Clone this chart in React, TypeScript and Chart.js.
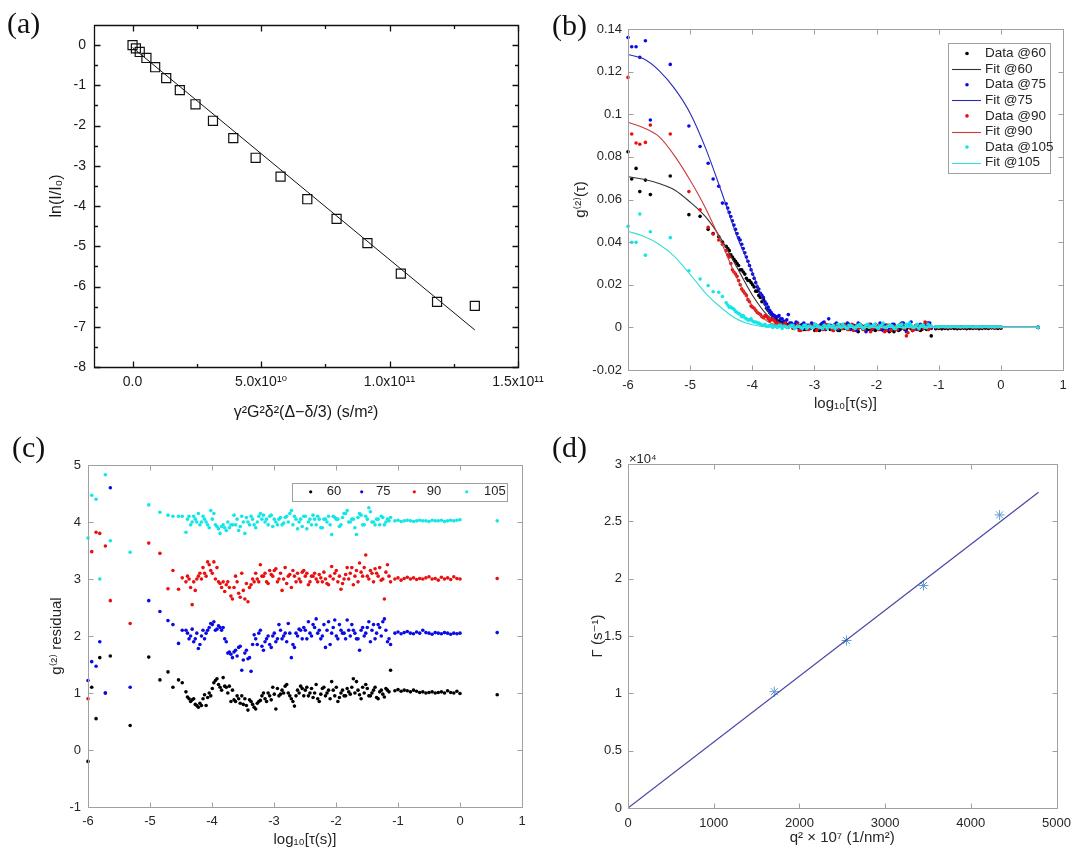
import React, { useEffect, useRef } from "react";
import { Chart, registerables } from "chart.js";

Chart.register(...registerables);

// ================= DATA =================
// Panel (a): ln(I/I0) vs gamma^2 G^2 delta^2 (Delta - delta/3)
const A_X = [0, 1.3e9, 2.8e9, 5.4e9, 8.8e9, 1.31e10, 1.84e10, 2.45e10, 3.13e10, 3.92e10, 4.79e10, 5.76e10, 6.8e10, 7.94e10, 9.14e10, 1.044e11, 1.185e11, 1.332e11];
const A_Y = [0, -0.08, -0.17, -0.32, -0.55, -0.82, -1.12, -1.47, -1.88, -2.31, -2.8, -3.27, -3.83, -4.32, -4.92, -5.68, -6.38, -6.48];
const A_FIT_X = [0, 1.332e11];
const A_FIT_Y = [-0.06, -7.08];
const A_X_TICKS = [0, 5e10, 1e11, 1.5e11];
const A_X_TICK_LABELS = ["0.0", "5.0x10¹⁰", "1.0x10¹¹", "1.5x10¹¹"];
const A_Y_TICKS = [-8, -7, -6, -5, -4, -3, -2, -1, 0];
const A_X_MINOR = [2.5e10, 7.5e10, 1.25e11];
const A_Y_MINOR = [-7.5, -6.5, -5.5, -4.5, -3.5, -2.5, -1.5, -0.5];

// Panels (b) and (c): log10(tau) grid
const TAU = [
  -6.0, -5.94, -5.87, -5.81, -5.72, -5.64, -5.32, -5.02, -4.84, -4.71, -4.63, -4.54, -4.48,
  -4.42, -4.37, -4.32, -4.27, -4.22, -4.17, -4.12, -4.07, -4.02, -3.97, -3.92, -3.87, -3.82, -3.77, -3.72, -3.67, -3.62, -3.57, -3.52, -3.47, -3.42, -3.37, -3.32, -3.27, -3.22, -3.17, -3.12, -3.07, -3.02, -2.97, -2.92, -2.87, -2.82, -2.77, -2.72, -2.67, -2.62, -2.57, -2.52, -2.47, -2.42, -2.37, -2.32, -2.27, -2.22, -2.17, -2.12, -2.07, -2.02, -1.97, -1.92, -1.87, -1.82, -1.77, -1.72, -1.67, -1.62, -1.57, -1.52, -1.47, -1.42, -1.37, -1.32, -1.27, -1.22, -1.17, -1.12,
  -1.05, -1.0, -0.95, -0.9, -0.85, -0.8, -0.75, -0.7, -0.65, -0.6, -0.55, -0.5, -0.45, -0.4, -0.35, -0.3, -0.25, -0.2, -0.15, -0.1, -0.05, 0,
  0.6,
];
// interleaved lag times in the dense middle region
const TAU_B = [
  -4.395, -4.345, -4.295, -4.245, -4.195, -4.145, -4.095, -4.045, -3.995, -3.945, -3.895, -3.845, -3.795, -3.745, -3.695, -3.645, -3.595, -3.545, -3.495, -3.445,
  -3.395, -3.345, -3.295, -3.245, -3.195, -3.145, -3.095, -3.045, -2.995, -2.945, -2.895, -2.845, -2.795, -2.745, -2.695, -2.645, -2.595, -2.545, -2.495, -2.445,
  -2.395, -2.345, -2.295, -2.245, -2.195, -2.145, -2.095, -2.045, -1.995, -1.945, -1.895, -1.845, -1.795, -1.745, -1.695, -1.645, -1.595, -1.545, -1.495, -1.445,
  -1.395, -1.345, -1.295, -1.245, -1.195, -1.145,
];
const SERIES = ["60", "75", "90", "105"];

// (b) g2 data
const G2_60 = [
  0.0824, 0.0696, 0.0746, 0.0637, 0.0691, 0.0623, 0.071, 0.0529, 0.0521, 0.046, 0.044, 0.0425, 0.04,
  0.038, 0.036, 0.033, 0.031, 0.029, 0.027, 0.025, 0.022, 0.021, 0.019, 0.017, 0.014, 0.013, 0.009, 0.007, 0.005, 0.004, 0.003, 0.002, 0.002, 0.001, 0.0005, 0.001, 0, 0.001, -0.001, 0.0005, -0.0005, 0.001, -0.001, -0.0015, 0.0005, -0.001, 0.001, -0.001, 0, -0.0015, 0.001, -0.0005, 0.0005, -0.001, 0, -0.0015, 0.001, -0.0005, 0, -0.001, 0.0005, -0.0015, -0.0005, 0, -0.001, 0.0005, -0.0015, -0.002, 0, -0.001, 0.0005, -0.001, 0, -0.0015, -0.0005, 0, -0.001, -0.0005, -0.001, -0.004,
  -0.0006, -0.0005, -0.0007, -0.0005, -0.0006, -0.0004, -0.0005, -0.0006, -0.0005, -0.0004, -0.0006, -0.0005, -0.0005, -0.0004, -0.0006, -0.0005, -0.0004, -0.0005, -0.0003, -0.0004, -0.0005, -0.0004,
  0,
];
const G2_60B = [
  0.037, 0.034, 0.032, 0.03, 0.027, 0.026, 0.023, 0.022, 0.02, 0.017, 0.015, 0.012, 0.011, 0.008, 0.006, 0.0045, 0.003, 0.0025, 0.002, 0.0015,
  0.001, 0, 0.0015, -0.0005, 0.0005, -0.001, 0, 0.001, -0.0015, 0.0005, -0.0005, 0, 0.001, -0.001, -0.0005, 0.0005, -0.0015, 0, 0.001, -0.001,
  0.0005, -0.0005, -0.002, 0, 0.0005, -0.001, -0.0015, 0.0005, 0, -0.001, -0.0005, 0.001, -0.002, -0.0005, 0, -0.0015, 0.0005, -0.001, 0, -0.0005,
  -0.001, 0.0005, -0.0015, 0, -0.001, -0.0005,
];
const G2_75 = [
  0.136, 0.1317, 0.1317, 0.1267, 0.1345, 0.0973, 0.1234, 0.0945, 0.0849, 0.077, 0.0696, 0.0662, 0.0583,
  0.058, 0.054, 0.05, 0.046, 0.042, 0.039, 0.035, 0.031, 0.027, 0.023, 0.019, 0.016, 0.014, 0.011, 0.008, 0.006, 0.005, 0.0055, 0.004, 0.0025, 0.006, 0.002, 0.0015, 0.002, 0.0005, 0.002, 0.001, -0.0005, 0.0015, 0.001, 0.0005, 0.002, -0.001, 0.004, 0.0005, 0.0015, -0.001, 0.001, 0, 0.002, -0.0005, 0.001, -0.0015, 0.0015, 0, -0.002, 0.001, -0.001, 0.0015, 0, -0.001, 0.001, -0.0015, 0.0005, 0.0015, -0.001, 0, 0.002, -0.002, 0.001, -0.0015, 0.0005, -0.001, 0.001, 0.0015, 0.002, -0.0005,
  0.0002, 0.0001, 0.0003, 0.0002, 0.0001, 0.0002, 0.0003, 0.0002, 0.0001, 0.0002, 0.0002, 0.0003, 0.0001, 0.0002, 0.0002, 0.0001, 0.0003, 0.0002, 0.0002, 0.0001, 0.0002, 0.0002,
  0,
];
const G2_75B = [
  0.056, 0.052, 0.048, 0.044, 0.041, 0.037, 0.033, 0.029, 0.025, 0.021, 0.018, 0.015, 0.012, 0.0095, 0.007, 0.0055, 0.005, 0.004, 0.003, 0.0035,
  0.002, 0.001, 0.0025, 0, 0.0015, -0.0005, 0.001, 0.002, 0.0005, -0.001, 0.0015, 0.0025, 0, 0.001, -0.0015, 0.002, 0.0005, -0.0005, 0.001, 0.0015,
  -0.001, 0.0005, 0.002, 0, -0.001, 0.001, 0.0015, -0.0005, 0.0005, 0.002, -0.0015, 0.001, 0, 0.0015, -0.001, 0.0005, 0.002, -0.0005, 0.001, 0.0025,
  0, -0.001, 0.0015, 0.0005, 0.001, 0.002,
];
const G2_90 = [
  0.1173, 0.0907, 0.0865, 0.0859, 0.0868, 0.0949, 0.0907, 0.0637, 0.0552, 0.0469, 0.0438, 0.041, 0.039,
  0.036, 0.033, 0.027, 0.025, 0.022, 0.018, 0.016, 0.013, 0.01, 0.009, 0.007, 0.006, 0.0045, 0.005, 0.003, 0.004, 0.002, 0.0015, 0.001, 0.002, 0, 0.001, -0.0005, 0.0015, -0.0015, 0.0005, -0.001, 0.001, 0, -0.0015, 0.0005, -0.001, 0.0015, 0, -0.001, 0.001, -0.0005, 0, 0.0015, -0.001, 0.0005, -0.0015, 0.001, 0, -0.001, 0.0005, 0.0015, -0.0005, 0.001, -0.001, 0, -0.002, 0.001, -0.0015, 0.0005, -0.001, 0.0015, -0.0005, -0.004, 0, -0.0015, 0.001, -0.001, 0.0005, 0.0025, -0.001, 0.0005,
  0.0001, 0, 0.0002, 0.0001, 0, 0.0001, 0.0002, 0, 0.0001, 0.0001, 0, 0.0002, 0.0001, 0, 0.0001, 0.0001, 0.0002, 0, 0.0001, 0, 0.0001, 0.0001,
  0,
];
const G2_90B = [
  0.034, 0.03, 0.026, 0.024, 0.02, 0.017, 0.015, 0.012, 0.0095, 0.008, 0.0065, 0.005, 0.0055, 0.004, 0.0035, 0.003, 0.002, 0.0015, 0.001, 0.0005,
  0.001, -0.0005, 0.0005, -0.0015, 0, 0.001, -0.001, 0.0005, 0.0015, -0.0005, 0, -0.001, 0.001, 0.0005, -0.0015, 0, 0.001, -0.0005, 0.0005, -0.001,
  0.0015, 0, -0.0005, 0.001, -0.001, 0.0005, -0.002, 0, 0.001, -0.0005, 0.0005, -0.0015, 0.001, 0, -0.001, 0.0005, 0.0015, -0.0005, -0.0025, 0.0005,
  -0.001, 0, 0.001, -0.0005, 0.002, -0.0005,
];
const G2_105 = [
  0.0474, 0.0399, 0.0399, 0.0532, 0.0339, 0.0449, 0.0421, 0.0266, 0.0227, 0.0196, 0.0167, 0.0165, 0.0145,
  0.0115, 0.0095, 0.009, 0.0075, 0.0065, 0.005, 0.0045, 0.0035, 0.004, 0.0025, 0.002, 0.0015, 0.001, 0.0005, 0.001, 0, 0.0005, 0.001, -0.0005, 0.0005, 0, 0.001, -0.0005, 0.0005, 0, 0.001, -0.0005, 0.0005, 0, 0.001, 0, -0.0005, 0.0005, 0.001, 0, -0.0005, 0.0015, 0, 0.0005, -0.0005, 0.001, 0, 0.0005, 0.0015, -0.0005, 0.001, 0, 0.0005, 0.0015, -0.0005, 0.001, 0, 0.0005, 0.001, -0.0005, 0.0005, 0.001, 0, 0.0015, 0.002, 0, 0.0005, -0.0005, 0.001, 0, 0.0015, 0.0005,
  0.0003, 0.0002, 0.0004, 0.0003, 0.0002, 0.0003, 0.0004, 0.0003, 0.0002, 0.0003, 0.0003, 0.0004, 0.0002, 0.0003, 0.0003, 0.0002, 0.0004, 0.0003, 0.0003, 0.0002, 0.0003, 0.0003,
  0,
];
const G2_105B = [
  0.0105, 0.0095, 0.0085, 0.007, 0.006, 0.0055, 0.004, 0.0035, 0.003, 0.0025, 0.002, 0.001, 0.0015, 0.0005, 0.001, 0.0005, 0, 0.001, 0.0005, 0,
  0.0005, 0.001, 0, 0.0005, -0.0005, 0.001, 0.0005, 0, 0.0015, 0.0005, 0, 0.001, -0.0005, 0.0005, 0.001, 0, 0.0005, 0.0015, 0, 0.001,
  0.0005, -0.0005, 0.001, 0.0005, 0, 0.0015, 0.0005, 0.001, 0, 0.0005, 0.002, 0, 0.001, 0.0005, -0.0005, 0.001, 0.0015, 0, 0.0005, 0.001,
  0, 0.0015, 0.0005, 0.001, 0, 0.0005,
];

// (b) fitted curves
const FIT_X = [-6, -5.75, -5.5, -5.25, -5.0, -4.75, -4.5, -4.25, -4.0, -3.75, -3.5, -3.25, -3.0, 0.6];
const FIT_60 = [0.0707, 0.0695, 0.0675, 0.0645, 0.0588, 0.0518, 0.0415, 0.0283, 0.0152, 0.0055, 0.0012, 0.0002, 0, 0];
const FIT_75 = [0.128, 0.126, 0.1205, 0.112, 0.1005, 0.084, 0.064, 0.043, 0.026, 0.0076, 0.0018, 0.0004, 0, 0];
const FIT_90 = [0.0962, 0.0937, 0.0895, 0.0805, 0.069, 0.0558, 0.04, 0.0232, 0.0102, 0.0027, 0.0006, 0, 0, 0];
const FIT_105 = [0.045, 0.0428, 0.039, 0.0332, 0.0249, 0.016, 0.0092, 0.0039, 0.0012, 0.0002, 0, 0, 0, 0];

// (c) residuals (offset per series)
const RES_60 = [
  -0.2, 1.1, 0.55, 1.62, 1.0, 1.65, 0.43, 1.63, 1.23, 1.37, 1.1, 1.23, 1.18,
  1.02, 0.9, 0.88, 0.8, 0.75, 0.78, 0.97, 0.92, 0.95, 1.18, 1.25, 1.1, 1.27, 1.1, 1.12, 1.05, 0.85, 0.9, 0.95, 0.9, 0.7, 0.85, 0.75, 0.82, 0.87, 1.0, 0.85, 0.95, 1.1, 0.72, 0.95, 1.05, 1.12, 1.0, 0.9, 0.77, 1.05, 1.12, 0.95, 1.1, 1.0, 0.92, 1.15, 0.85, 1.08, 0.95, 1.05, 1.2, 0.95, 0.85, 1.0, 0.95, 1.08, 0.98, 1.25, 1.2, 0.97, 1.1, 1.15, 0.95, 1.0, 1.1, 0.9, 1.05, 0.93, 1.05, 1.4,
  1.04, 1.06, 1.03, 1.05, 1.04, 1.02, 1.05, 1.03, 1.01, 1.02, 1.0, 1.01, 1.02, 1.0, 1.01, 1.02, 1.0, 1.04, 1.01, 1.0, 1.03, 0.99,
  0.97,
];
const RES_60B = [
  0.93, 0.85, 0.9, 0.78, 0.82, 0.9, 0.78, 1.0, 1.08, 1.22, 1.15, 1.05, 1.12, 1.0, 0.85, 0.88, 0.95, 0.82, 0.8, 0.78,
  0.88, 0.8, 0.72, 0.85, 0.95, 0.9, 1.0, 0.88, 0.98, 1.08, 0.98, 1.0, 1.15, 0.95, 0.85, 0.95, 1.0, 1.08, 1.05, 0.95,
  1.08, 1.0, 0.9, 0.98, 1.1, 1.0, 0.9, 1.05, 1.1, 0.92, 1.05, 0.95, 1.02, 1.1, 1.0, 1.05, 0.9, 1.0, 1.08, 0.95,
  1.05, 0.92, 1.02, 0.98, 1.08, 1.02,
];
const RES_75 = [
  1.22, 1.55, 1.47, 1.9, 1.0, 4.6, 1.1, 2.62, 2.43, 2.27, 2.2, 1.87, 2.1,
  2.1, 1.95, 2.12, 1.95, 1.78, 2.0, 1.95, 2.1, 2.22, 2.25, 2.12, 2.15, 2.15, 1.9, 1.72, 1.62, 1.75, 1.8, 1.4, 1.7, 1.6, 1.38, 2.02, 1.85, 2.1, 1.75, 1.95, 1.85, 2.0, 1.9, 2.2, 1.95, 2.05, 2.22, 1.62, 1.8, 2.0, 2.1, 2.15, 1.95, 2.05, 2.2, 2.3, 2.1, 2.0, 1.8, 2.25, 2.05, 2.28, 1.95, 2.1, 2.05, 2.28, 2.0, 2.1, 1.95, 1.75, 2.15, 2.05, 2.25, 2.1, 1.95, 2.2, 2.0, 2.3, 1.9, 1.85,
  2.05, 2.07, 2.04, 2.06, 2.08, 2.05, 2.04, 2.07, 2.05, 2.1, 2.06, 2.05, 2.03, 2.06, 2.05, 2.04, 2.06, 2.05, 2.03, 2.05, 2.04, 2.05,
  2.06,
];
const RES_75B = [
  2.05, 2.0, 1.9, 2.05, 1.85, 2.1, 2.05, 2.15, 2.2, 2.1, 2.18, 2.1, 1.95, 1.7, 1.68, 1.72, 1.65, 1.82, 1.58, 1.75,
  1.62, 1.85, 1.95, 2.05, 1.82, 1.9, 2.0, 1.8, 2.05, 1.95, 2.1, 2.0, 1.9, 2.05, 1.85, 2.05, 2.12, 1.95, 2.1, 2.25,
  2.0, 2.15, 2.05, 1.95, 2.2, 2.1, 1.85, 2.15, 2.0, 2.2, 2.05, 1.95, 2.1, 2.2, 2.05, 1.95, 2.1, 2.0, 2.15, 1.9,
  2.2, 2.05, 2.15, 2.25, 2.1, 1.95,
];
const RES_90 = [
  0.9, 3.48, 3.82, 3.8, 3.58, 2.62, 2.22, 3.63, 3.45, 2.83, 3.15, 2.82, 3.02,
  2.95, 3.0, 2.55, 2.8, 3.05, 3.0, 3.1, 3.3, 3.15, 3.3, 3.2, 2.92, 2.95, 2.9, 2.85, 2.65, 3.05, 2.75, 3.1, 2.65, 2.6, 2.9, 2.95, 3.0, 3.25, 3.05, 2.95, 3.15, 3.05, 3.18, 3.0, 2.8, 3.2, 3.05, 2.85, 3.05, 3.1, 2.95, 3.15, 3.1, 2.95, 3.05, 3.0, 3.08, 2.95, 3.0, 2.9, 3.22, 3.1, 2.95, 2.82, 3.0, 3.2, 3.1, 2.9, 3.15, 3.28, 3.05, 3.42, 3.0, 3.1, 3.18, 3.05, 2.98, 2.65, 3.25, 2.95,
  3.0, 3.02, 2.98, 3.01, 3.03, 3.0, 3.02, 2.99, 3.01, 3.0, 3.02, 3.04, 3.0, 3.01, 2.98, 3.03, 3.0, 3.02, 2.99, 3.04, 3.01, 3.0,
  3.01,
];
const RES_90B = [
  3.05, 2.85, 2.95, 3.0, 3.1, 3.2, 3.05, 3.25, 3.1, 3.0, 2.95, 2.85, 2.78, 2.95, 2.7, 2.85, 2.95, 2.68, 2.8, 2.92,
  2.85, 3.0, 3.1, 2.95, 3.05, 3.1, 2.92, 3.08, 3.15, 2.95, 3.1, 3.0, 2.92, 3.08, 3.15, 2.95, 3.0, 3.12, 3.05, 2.9,
  3.05, 3.1, 2.95, 3.02, 3.12, 2.92, 3.05, 3.0, 3.15, 3.05, 2.92, 3.08, 3.0, 3.2, 3.05, 2.95, 3.12, 3.2, 3.05, 3.15,
  2.95, 3.1, 3.2, 3.0, 3.12, 3.05,
];
const RES_105 = [
  3.72, 4.47, 4.4, 3.0, 4.83, 3.67, 3.47, 4.3, 4.17, 4.12, 4.1, 4.1, 4.1,
  3.82, 4.1, 4.0, 4.05, 4.15, 4.0, 4.05, 3.95, 4.2, 4.15, 3.92, 3.8, 3.95, 3.85, 3.9, 3.95, 3.95, 3.85, 4.1, 3.8, 4.0, 4.1, 3.95, 4.0, 4.15, 4.12, 4.05, 4.1, 3.92, 4.0, 4.05, 3.95, 4.08, 4.0, 4.2, 4.1, 3.88, 4.05, 4.1, 3.88, 4.05, 4.12, 3.95, 4.05, 3.9, 4.05, 4.1, 3.78, 4.08, 4.05, 3.95, 4.15, 4.2, 4.0, 4.05, 3.78, 4.15, 3.95, 4.1, 4.25, 4.0, 3.95, 4.05, 4.1, 3.95, 4.05, 4.08,
  4.02, 4.03, 4.01, 4.02, 4.03, 4.02, 4.01, 4.02, 4.03, 4.02, 4.02, 4.01, 4.03, 4.02, 4.02, 4.03, 4.01, 4.02, 4.03, 4.02, 4.03, 4.04,
  4.02,
];
const RES_105B = [
  4.05, 3.95, 4.1, 4.0, 3.95, 4.1, 4.0, 3.9, 4.05, 3.95, 3.88, 3.92, 3.9, 4.0, 3.95, 4.12, 4.05, 3.92, 4.0, 4.08,
  3.95, 4.05, 3.9, 4.1, 4.05, 4.0, 3.95, 4.12, 4.05, 3.95, 4.08, 3.98, 4.1, 4.15, 3.95, 4.05, 4.0, 3.92, 4.1, 4.0,
  3.95, 4.05, 4.1, 3.9, 4.05, 4.0, 3.95, 4.1, 4.05, 3.92, 4.08, 4.15, 4.0, 4.05, 3.9, 4.08, 4.12, 3.95, 4.05, 4.18,
  4.0, 4.05, 3.95, 4.08, 4.0, 4.02,
];

// Panel (d): decay rate vs q^2
const Q2 = [1707, 2549, 3447, 4336];
const GAMMA = [10140, 14610, 19400, 25560];
const GAMMA_FIT_X = [0, 4790];
const GAMMA_FIT_Y = [0, 27530];

// ================= STYLE / LAYOUT =================
const PAGE_W = 1079;
const PAGE_H = 857;
const FONT = '"Liberation Sans", Arial, Helvetica, "DejaVu Sans", sans-serif';
const SERIF = '"Liberation Serif", "Times New Roman", Times, serif';
const ML_TEXT = "#262626";
const ML_FRAME = "#a0a0a0";
const DOT_COLORS = ["#000000", "#0a0ae6", "#ea1010", "#12e6e6"];
const FIT_COLORS = ["#333333", "#2a2ab8", "#cc3a3a", "#3adcdc"];

const decorPlugin = {
  id: "decor",
  afterDatasetsDraw(chart: any, _args: any, o: any) {
    if (!o || !o.frameColor) return;
    const { ctx, chartArea: ca } = chart;
    const xs = chart.scales.x;
    const ys = chart.scales.y;
    const l = Math.round(ca.left) + 0.5;
    const r = Math.round(ca.right) + 0.5;
    const t = Math.round(ca.top) + 0.5;
    const b = Math.round(ca.bottom) + 0.5;
    ctx.save();
    const lg = o.legend;
    if (lg) {
      ctx.fillStyle = "#ffffff";
      ctx.fillRect(lg.x, lg.y, lg.w, lg.h);
      ctx.strokeStyle = lg.border;
      ctx.lineWidth = 1;
      ctx.strokeRect(Math.round(lg.x) + 0.5, Math.round(lg.y) + 0.5, Math.round(lg.w), Math.round(lg.h));
      ctx.font = lg.font;
      ctx.textBaseline = "middle";
      ctx.textAlign = "left";
      const items = chart.data.datasets.filter((d: any) => d.label);
      items.forEach((d: any, i: number) => {
        const cx = lg.vertical ? lg.markX : lg.markX[i];
        const cy = lg.vertical ? lg.rowY + i * lg.rowH : lg.rowY;
        const tx = lg.vertical ? lg.textX : lg.textX[i];
        if (d.showLine) {
          ctx.strokeStyle = d.borderColor;
          ctx.lineWidth = d.borderWidth;
          ctx.beginPath();
          ctx.moveTo(lg.lineX0, Math.round(cy) + 0.5);
          ctx.lineTo(lg.lineX1, Math.round(cy) + 0.5);
          ctx.stroke();
        } else {
          ctx.fillStyle = d.backgroundColor;
          ctx.beginPath();
          ctx.arc(cx, cy, lg.dotR, 0, Math.PI * 2);
          ctx.fill();
        }
        ctx.fillStyle = lg.textColor;
        ctx.fillText(d.label, tx, cy);
      });
    }
    ctx.strokeStyle = o.frameColor;
    ctx.lineWidth = o.frameWidth || 1;
    ctx.beginPath();
    ctx.rect(l, t, r - l, b - t);
    ctx.stroke();
    ctx.beginPath();
    const xTick = (v: number, len: number) => {
      const p = Math.round(xs.getPixelForValue(v)) + 0.5;
      if (p < l - 0.1 || p > r + 0.1) return;
      ctx.moveTo(p, b);
      ctx.lineTo(p, b - len);
      ctx.moveTo(p, t);
      ctx.lineTo(p, t + len);
    };
    const yTick = (v: number, len: number) => {
      const p = Math.round(ys.getPixelForValue(v)) + 0.5;
      if (p < t - 0.1 || p > b + 0.1) return;
      ctx.moveTo(l, p);
      ctx.lineTo(l + len, p);
      ctx.moveTo(r, p);
      ctx.lineTo(r - len, p);
    };
    xs.ticks.forEach((tk: any) => xTick(tk.value, o.major));
    ys.ticks.forEach((tk: any) => yTick(tk.value, o.major));
    (o.xMinor || []).forEach((v: number) => xTick(v, o.minor));
    (o.yMinor || []).forEach((v: number) => yTick(v, o.minor));
    ctx.stroke();
    if (o.exponent) {
      ctx.font = o.exponent.font;
      ctx.fillStyle = o.exponent.color;
      ctx.textAlign = "left";
      ctx.textBaseline = "middle";
      ctx.fillText(o.exponent.text, o.exponent.x, o.exponent.y);
    }
    ctx.restore();
  },
};

function axisOpts(a: any, color: string) {
  const o: any = {
    type: "linear",
    min: a.min,
    max: a.max,
    afterFit: a.fit,
    grid: { display: false, drawTicks: false },
    border: { display: false },
    ticks: {
      stepSize: a.step,
      autoSkip: false,
      maxRotation: 0,
      minRotation: 0,
      padding: a.pad,
      color,
      font: { family: FONT, size: a.tickSize },
      callback: a.fmt,
    },
    title: { display: true, text: a.title, color, font: { family: FONT, size: a.titleSize }, padding: 0 },
  };
  if (a.list) o.afterBuildTicks = (s: any) => { s.ticks = a.list.map((v: number) => ({ value: v })); };
  return o;
}

function baseOptions(box: any, yW: number, xH: number, x: any, y: any, color: string, decor: any) {
  return {
    animation: false,
    responsive: false,
    devicePixelRatio: 1,
    events: [],
    layout: { padding: { left: box.L - yW, top: box.T, right: PAGE_W - box.R, bottom: PAGE_H - box.B - xH } },
    plugins: { legend: { display: false }, tooltip: { enabled: false }, decor },
    scales: {
      x: axisOpts({ ...x, fit: (s: any) => { s.height = xH; } }, color),
      y: axisOpts({ ...y, fit: (s: any) => { s.width = yW; } }, color),
    },
  };
}

const pts = (xs: number[], ys: number[]) => xs.map((x, i) => ({ x, y: ys[i] }));
const fmt2 = (v: number) => String(Math.round(v * 100) / 100);

function makeA() {
  return {
    type: "scatter",
    data: {
      datasets: [
        { data: pts(A_FIT_X, A_FIT_Y), showLine: true, pointRadius: 0, borderColor: "#111111", borderWidth: 1, order: 2 },
        { data: pts(A_X, A_Y), pointStyle: "rect", pointRadius: 6.4, borderColor: "#111111", borderWidth: 1.2, backgroundColor: "rgba(255,255,255,0)", order: 1 },
      ],
    },
    options: baseOptions(
      { L: 94, T: 25, R: 518, B: 367 }, 47, 55,
      { min: -1.5e10, max: 1.5e11, list: A_X_TICKS, pad: 7, tickSize: 14, titleSize: 16, title: "γ²G²δ²(Δ−δ/3) (s/m²)", fmt: (v: number) => A_X_TICK_LABELS[A_X_TICKS.indexOf(v)] },
      { min: -8, max: 0.5, list: A_Y_TICKS, pad: 8, tickSize: 14, titleSize: 16, title: "ln(I/I₀)", fmt: (v: number) => String(v) },
      "#1a1a1a",
      { frameColor: "#111111", frameWidth: 1.3, major: 6, minor: 3.5, xMinor: A_X_MINOR, yMinor: A_Y_MINOR },
    ),
  };
}

function makeB() {
  const g2 = [G2_60, G2_75, G2_90, G2_105];
  const g2b = [G2_60B, G2_75B, G2_90B, G2_105B];
  const fits = [FIT_60, FIT_75, FIT_90, FIT_105];
  const datasets: any[] = [];
  SERIES.forEach((s, i) => {
    datasets.push({ label: "Data @" + s, data: pts(TAU, g2[i]).concat(pts(TAU_B, g2b[i])), pointRadius: 1.8, borderWidth: 0, backgroundColor: DOT_COLORS[i], clip: false });
    datasets.push({ label: "Fit @" + s, data: pts(FIT_X, fits[i]), showLine: true, pointRadius: 0, borderColor: FIT_COLORS[i], borderWidth: 1.1, cubicInterpolationMode: "monotone", clip: false });
  });
  datasets.forEach((d, i) => { d.order = datasets.length - i; });
  return {
    type: "scatter",
    data: { datasets },
    options: baseOptions(
      { L: 628, T: 29, R: 1063, B: 370 }, 56, 43,
      { min: -6, max: 1, step: 1, pad: 8, tickSize: 13, titleSize: 15, title: "log₁₀[τ(s)]", fmt: (v: number) => String(v) },
      { min: -0.02, max: 0.14, step: 0.02, pad: 6, tickSize: 13, titleSize: 15, title: "g⁽²⁾(τ)", fmt: fmt2 },
      ML_TEXT,
      {
        frameColor: ML_FRAME, frameWidth: 1, major: 5, minor: 0,
        legend: { vertical: true, x: 948, y: 42.5, w: 102, h: 129.5, rowY: 53.5, rowH: 15.6, markX: 967, lineX0: 952, lineX1: 981, textX: 985, dotR: 1.8, font: "13.5px " + FONT, textColor: ML_TEXT, border: ML_FRAME },
      },
    ),
  };
}

function makeC() {
  const res = [RES_60, RES_75, RES_90, RES_105];
  const resb = [RES_60B, RES_75B, RES_90B, RES_105B];
  const datasets: any[] = SERIES.map((s, i) => ({ label: s, data: pts(TAU, res[i]).concat(pts(TAU_B, resb[i])), pointRadius: 1.8, borderWidth: 0, backgroundColor: DOT_COLORS[i], clip: false, order: SERIES.length - i }));
  return {
    type: "scatter",
    data: { datasets },
    options: baseOptions(
      { L: 88, T: 465, R: 522, B: 807 }, 40, 42,
      { min: -6, max: 1, step: 1, pad: 7, tickSize: 13, titleSize: 15, title: "log₁₀[τ(s)]", fmt: (v: number) => String(v) },
      { min: -1, max: 5, step: 1, pad: 7, tickSize: 13, titleSize: 15, title: "g⁽²⁾ residual", fmt: (v: number) => String(v) },
      ML_TEXT,
      {
        frameColor: ML_FRAME, frameWidth: 1, major: 5, minor: 0,
        legend: { vertical: false, x: 292, y: 483, w: 215, h: 17.5, rowY: 491.8, markX: [310.7, 361.7, 414.3, 466.7], textX: [326.7, 376, 426.7, 484], dotR: 1.6, font: "13px " + FONT, textColor: ML_TEXT, border: ML_FRAME },
      },
    ),
  };
}

function makeD() {
  return {
    type: "scatter",
    data: {
      datasets: [
        { data: pts(Q2, GAMMA), pointStyle: "star", pointRadius: 5, borderColor: "#6199cf", borderWidth: 1, backgroundColor: "rgba(0,0,0,0)", order: 2 },
        { data: pts(GAMMA_FIT_X, GAMMA_FIT_Y), showLine: true, pointRadius: 0, borderColor: "#4646a6", borderWidth: 1.2, order: 1 },
      ],
    },
    options: baseOptions(
      { L: 628, T: 464, R: 1063, B: 808 }, 39, 39,
      { min: 0, max: 5000, step: 1000, pad: 8, tickSize: 13, titleSize: 15, title: "q² × 10⁷ (1/nm²)", fmt: (v: number) => String(v) },
      { min: 0, max: 30000, step: 5000, pad: 6, tickSize: 13, titleSize: 15, title: "Γ (s⁻¹)", fmt: (v: number) => String(v / 10000) },
      ML_TEXT,
      { frameColor: ML_FRAME, frameWidth: 1, major: 5, minor: 0, exponent: { text: "×10⁴", x: 629, y: 459, font: "13px " + FONT, color: ML_TEXT } },
    ),
  };
}

function ChartCanvas({ make }: { make: () => any }) {
  const ref = useRef<HTMLCanvasElement>(null);
  useEffect(() => {
    const cfg = make();
    cfg.plugins = [decorPlugin];
    const chart = new Chart(ref.current as HTMLCanvasElement, cfg);
    return () => chart.destroy();
  }, []);
  return (
    <canvas
      ref={ref}
      width={PAGE_W}
      height={PAGE_H}
      style={{ position: "absolute", left: 0, top: 0, width: PAGE_W, height: PAGE_H }}
    />
  );
}

const LETTERS = [
  { t: "(a)", x: 7, y: 8 },
  { t: "(b)", x: 552, y: 10 },
  { t: "(c)", x: 12, y: 432 },
  { t: "(d)", x: 552, y: 432 },
];

export default function App() {
  return (
    <div style={{ position: "fixed", left: 0, top: 0, width: PAGE_W, height: PAGE_H, background: "#ffffff", overflow: "hidden" }}>
      <ChartCanvas make={makeA} />
      <ChartCanvas make={makeB} />
      <ChartCanvas make={makeC} />
      <ChartCanvas make={makeD} />
      {LETTERS.map((l) => (
        <div
          key={l.t}
          style={{ position: "absolute", left: l.x, top: l.y, fontFamily: SERIF, fontSize: 30, lineHeight: "30px", color: "#111", whiteSpace: "nowrap" }}
        >
          {l.t}
        </div>
      ))}
    </div>
  );
}
